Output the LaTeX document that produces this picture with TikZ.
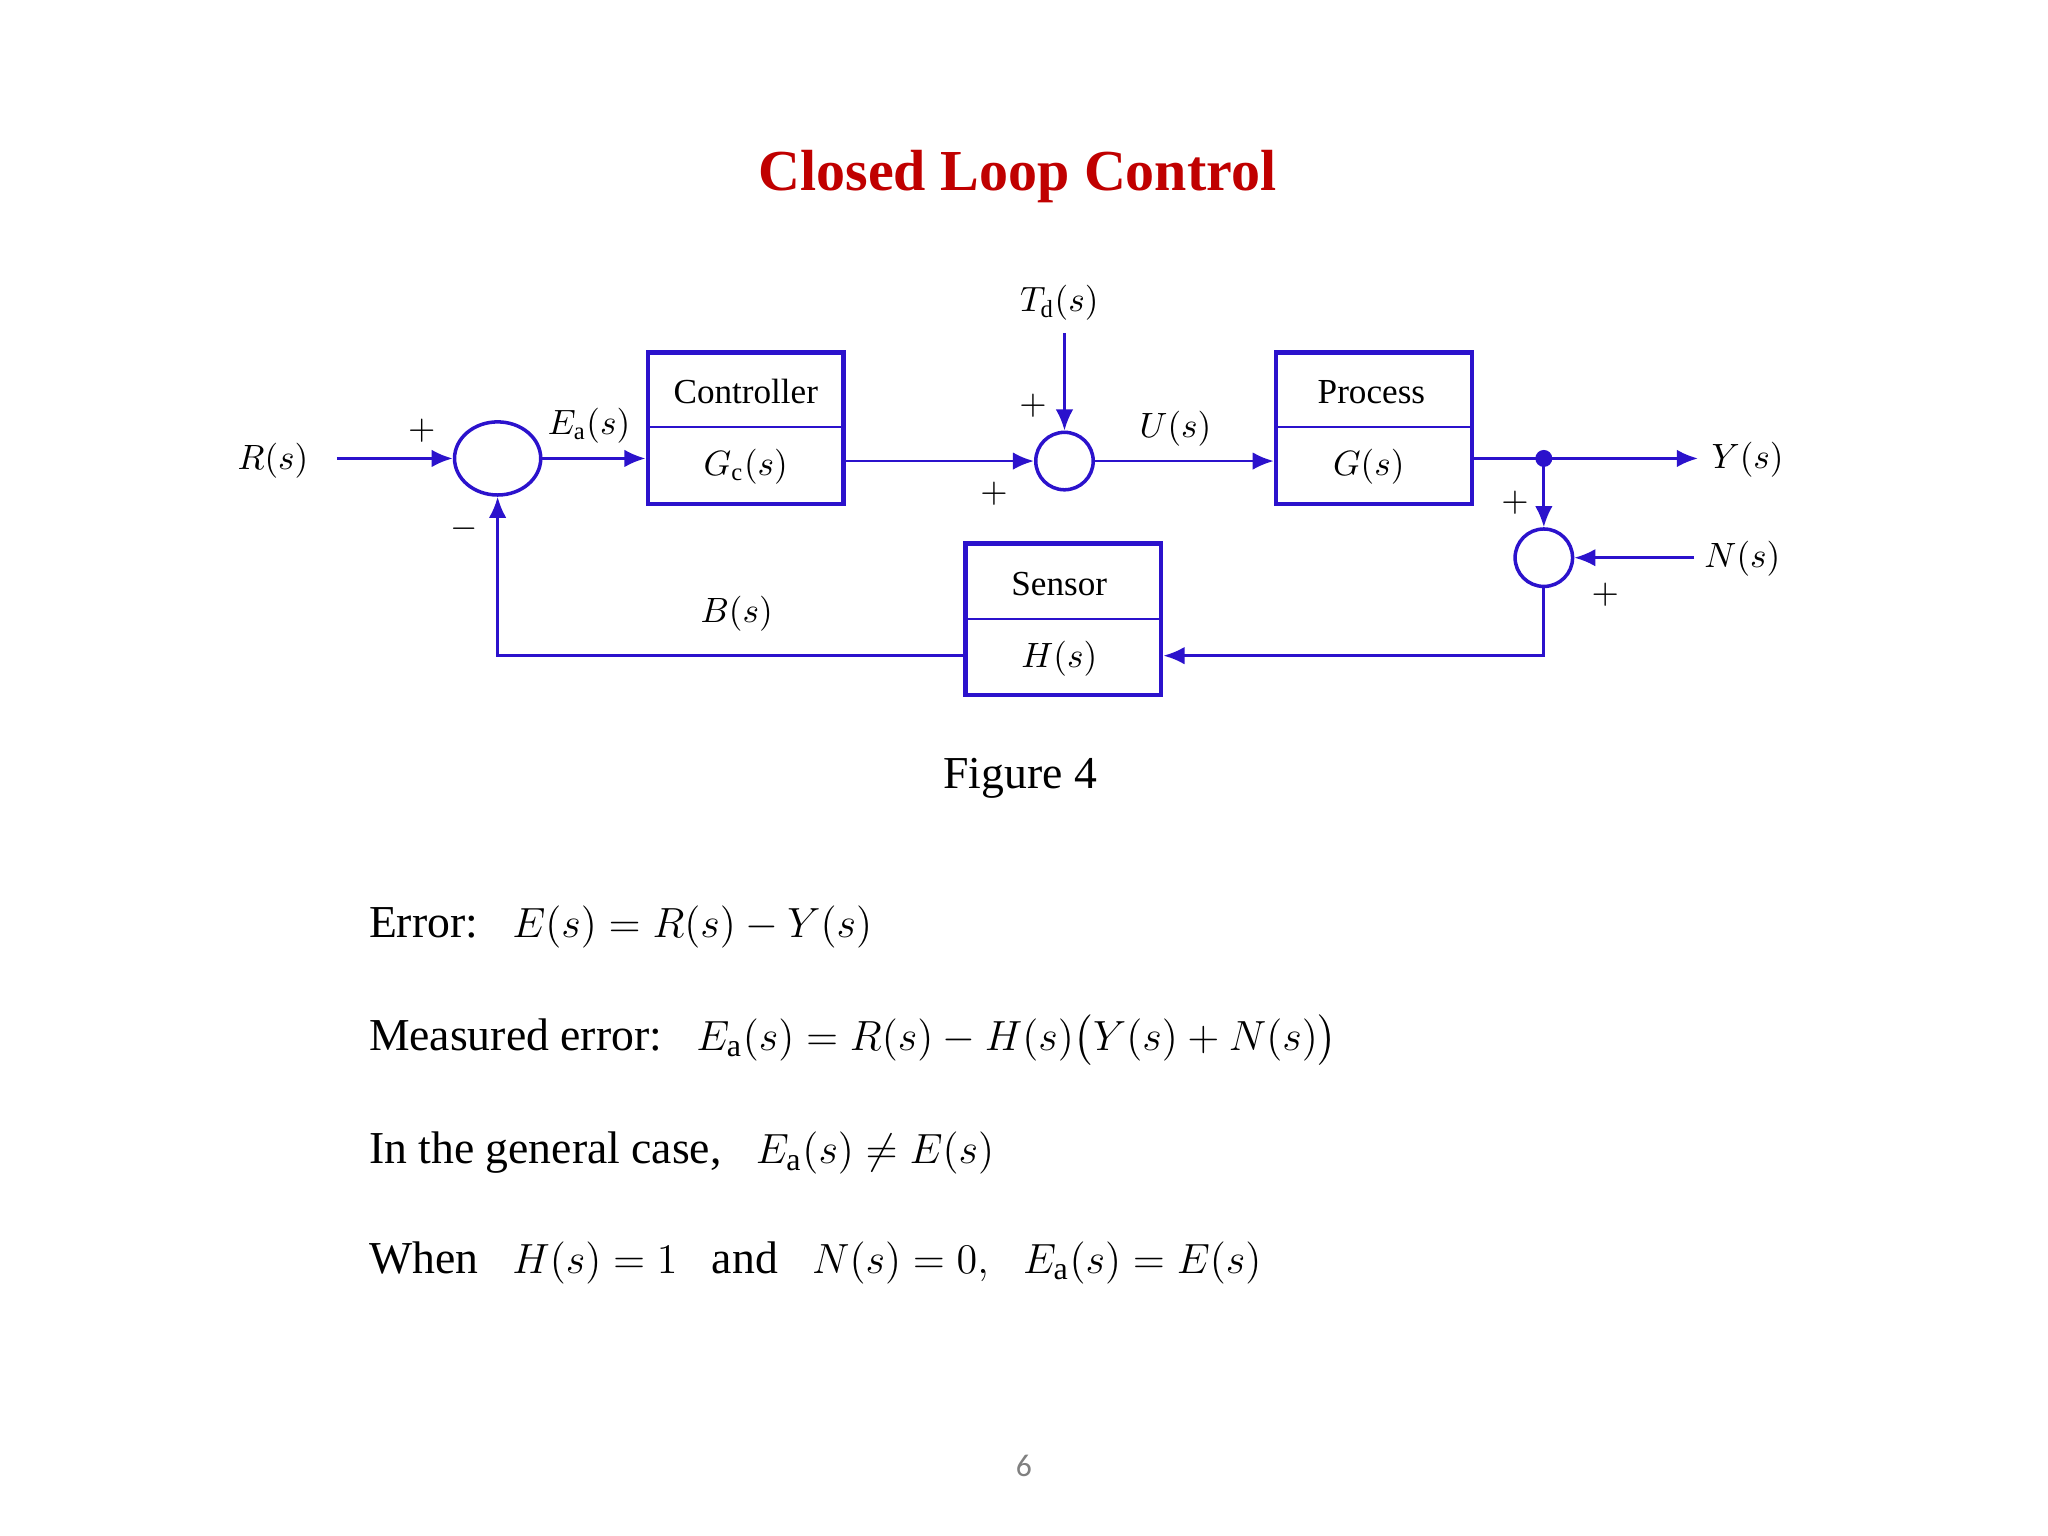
\documentclass[tikz,border=0pt]{standalone}
\usepackage{amsmath}
\usepackage{fontspec}
\setmainfont{Liberation Serif}
\newfontfamily\pgsans{Carlito}
\usetikzlibrary{arrows.meta,shapes.geometric}
\definecolor{bl}{HTML}{2B12CC}
\definecolor{tred}{HTML}{C00000}
\begin{document}
\begin{tikzpicture}[x=0.013061cm,y=-0.013061cm,
  blk/.style={draw=bl,line width=1.3pt,minimum width=150*0.013061cm,minimum height=116*0.013061cm,inner sep=0},
  sig/.style={draw=bl,line width=0.8pt,-{Latex[length=6pt,width=5pt]}},
  ln/.style={draw=bl,line width=0.8pt},
  lab/.style={font=\fontsize{10}{12}\selectfont},
  txt/.style={anchor=west,inner sep=0,font=\fontsize{13}{15}\selectfont}]
\useasboundingbox (0,0) rectangle (1568,1176);
\node[font=\fontsize{16.5}{20}\selectfont\bfseries,text=tred] (title) at (779,135) {Closed Loop Control};
% blocks
\node[blk] (ctrl) at (571,328) {};
\draw[bl,line width=0.6pt] (496,327) -- (646,327);
\node[lab] (ctrlt) at (571,300) {Controller};
\node[lab] (ctrlm) at (571,357) {$G_{\mathrm{c}}(s)$};
\node[blk] (proc) at (1052,328) {};
\draw[bl,line width=0.6pt] (977,327) -- (1127,327);
\node[lab] (proct) at (1050,300) {Process};
\node[lab] (procm) at (1048,357) {$G(s)$};
\node[blk] (sens) at (814,474) {};
\draw[bl,line width=0.6pt] (739,474) -- (889,474);
\node[lab] (senst) at (811,447) {Sensor};
\node[lab] (sensm) at (811,504) {$H(s)$};
% sums
\node[draw=bl,line width=1pt,ellipse,minimum width=66*0.013061cm,minimum height=56*0.013061cm,inner sep=0] (s1) at (381,351) {};
\node[draw=bl,line width=1pt,circle,minimum size=44*0.013061cm,inner sep=0] (s2) at (815,353) {};
\node[draw=bl,line width=1pt,circle,minimum size=44*0.013061cm,inner sep=0] (s3) at (1182,427) {};
% coordinates
\coordinate (rin) at (258,351);
\coordinate (tdin) at (815,255);
\coordinate (dot) at (1182,351);
\coordinate (yout) at (1300,351);
\coordinate (nin) at (1297,427);
\coordinate (c1) at (1182,502);
\coordinate (c2) at (381,502);
\fill[bl] (dot) circle (6.5);
% labels
\node[lab] at (209,353) {$R(s)$};
\node[lab] at (451,326) {$E_{\mathrm{a}}(s)$};
\node[lab] at (811,232) {$T_{\mathrm{d}}(s)$};
\node[lab] at (900,328) {$U(s)$};
\node[lab] at (1338,352) {$Y(s)$};
\node[lab] at (1334,428) {$N(s)$};
\node[lab] at (564,470) {$B(s)$};
\node[lab] at (323,330) {$+$};
\node[lab] at (355,405) {$-$};
\node[lab] at (791,311) {$+$};
\node[lab] at (761,378) {$+$};
\node[lab] at (1160,385) {$+$};
\node[lab] at (1229,455) {$+$};
% connectors
\draw[sig] (rin) -- (s1.west);
\draw[sig] (s1.east) -- (ctrl.west |- s1.east);
\draw[sig] (ctrl.east |- s2.west) -- (s2.west);
\draw[sig] (tdin) -- (s2.north);
\draw[sig] (s2.east) -- (proc.west |- s2.east);
\draw[ln] (proc.east |- dot) -- (dot);
\draw[sig] (dot) -- (yout);
\draw[sig] (dot) -- (s3.north);
\draw[sig] (nin) -- (s3.east);
\draw[sig] (s3.south) -- (c1) -- (sens.east |- c1);
\draw[sig] (sens.west |- c2) -- (c2) -- (s1.south);
% text
\node[font=\fontsize{13}{15}\selectfont] at (781,596) {Figure 4};
\node[txt] at (282,710) {Error:\enskip\ $E(s)=R(s)-Y(s)$};
\node[txt] at (282,796) {Measured error:\enskip\ $E_{\mathrm{a}}(s)=R(s)-H(s)\big(Y(s)+N(s)\big)$};
\node[txt] at (282,883) {In the general case,\enskip\ $E_{\mathrm{a}}(s)\neq E(s)$};
\node[txt] at (282,967) {When\enskip\ $H(s)=1$\enskip\ and\enskip\ $N(s)=0,$\enskip\ $E_{\mathrm{a}}(s)=E(s)$};
\node[font=\pgsans\fontsize{9}{10}\selectfont,text=gray] at (784,1122) {6};
\end{tikzpicture}
\end{document}
